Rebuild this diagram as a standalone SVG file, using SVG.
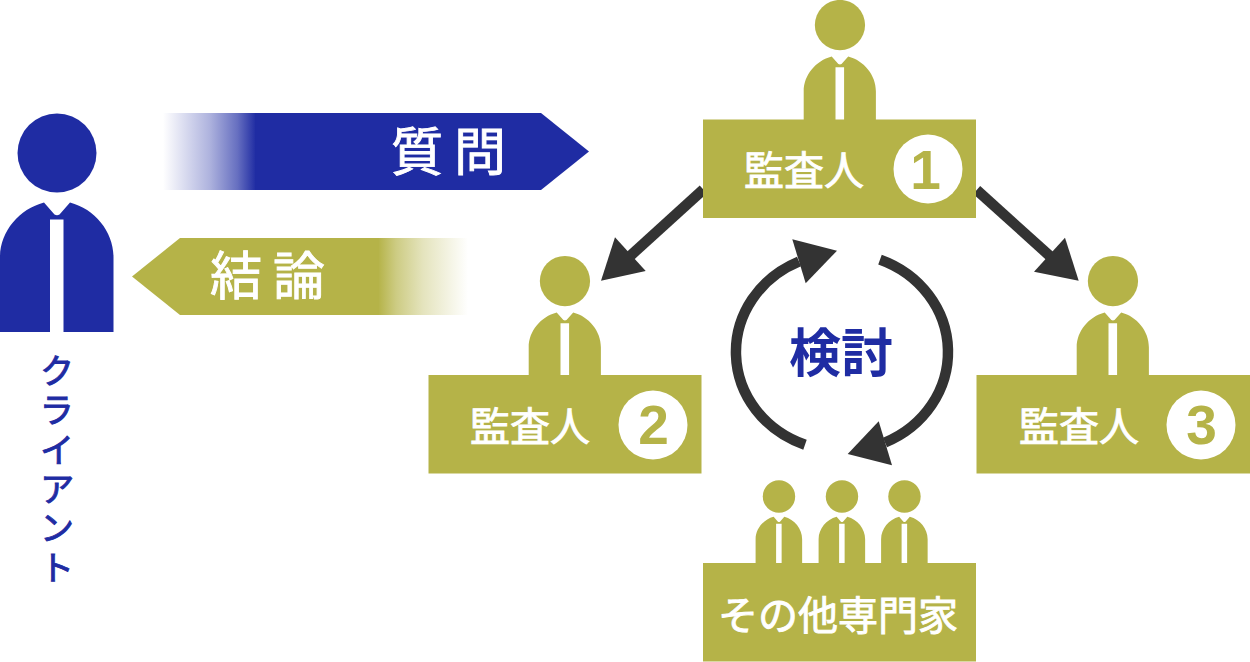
<svg xmlns="http://www.w3.org/2000/svg" width="1250" height="662" viewBox="0 0 1250 662">
<style>
.t{font-family:"Noto Sans CJK JP","Liberation Sans",sans-serif;font-weight:400}
.w{fill:#fff;stroke:#fff;stroke-width:.9}
.d{fill:#fff}
.g{fill:#b5b348}
.b{fill:#1f2ca3}
.kana{fill:#1f2ca3;stroke:#1f2ca3;stroke-width:.9;writing-mode:vertical-rl}
.c{fill:none;stroke:#333;stroke-width:10.500}
.a{fill:#333}
.num{font-family:"Liberation Sans",sans-serif;font-weight:700;font-size:55px;fill:#b5b348;text-anchor:middle}
</style>
<defs>
<g id="person">
<circle cx="57" cy="153" r="39.5"/>
<path fill-rule="evenodd" d="M44 202.500L54.500 214.500Q57 216 59.500 214.500L70 202.500C95 209 113.500 232 113.500 257V332H0V257C0 232 19 209 44 202.500ZM50 219.500V332H63.500V219.500Z"/>
</g>
<linearGradient id="gb" gradientUnits="userSpaceOnUse" x1="163" x2="256" y1="0" y2="0"><stop offset="0" stop-color="#1f2ca3" stop-opacity="0"/><stop offset=".5" stop-color="#1f2ca3" stop-opacity=".36"/><stop offset=".8" stop-color="#1f2ca3" stop-opacity=".68"/><stop offset="1" stop-color="#1f2ca3"/></linearGradient>
<linearGradient id="gg" gradientUnits="userSpaceOnUse" x1="468" x2="378" y1="0" y2="0"><stop offset="0" stop-color="#b5b348" stop-opacity="0"/><stop offset=".5" stop-color="#b5b348" stop-opacity=".36"/><stop offset=".8" stop-color="#b5b348" stop-opacity=".68"/><stop offset="1" stop-color="#b5b348"/></linearGradient>
</defs>
<g id="client">
<use href="#person" class="b"/>
<text class="t kana" font-size="35" x="57" y="353" letter-spacing="4.400">クライアント</text>
</g>
<g id="question">
<rect x="163" y="113" width="93" height="77" fill="url(#gb)"/>
<path class="b" d="M255 113H541L589 151.500L541 190H255Z"/>
<text class="t w" font-size="52" x="391" y="171">質</text>
<text class="t w" font-size="52" x="454" y="171">問</text>
</g>
<g id="conclusion">
<rect x="378" y="238" width="90" height="77" fill="url(#gg)"/>
<path class="g" d="M379 238H180L132 276.500L180 315H379Z"/>
<text class="t w" font-size="52" x="210" y="295">結</text>
<text class="t w" font-size="52" x="273" y="295">論</text>
</g>
<g id="connectors">
<path class="c" d="M703.300 189.500L628 258"/>
<path class="a" d="M601 280.700L615 237.300L645.700 271Z"/>
<path class="c" d="M976.700 190L1052 258"/>
<path class="a" d="M1078.700 280.700L1065 237.700L1034 271.700Z"/>
<path class="c" d="M805 444.800A106 99 0 0 1 799 261.500"/>
<path class="a" d="M837 250.700L792.300 239.300L805.700 283.300Z"/>
<path class="c" d="M880 259.600A106 99 0 0 1 885 442.500"/>
<path class="a" d="M847.700 454L892 465.300L878.700 421.300Z"/>
</g>
<text id="review" class="t b" font-size="52" style="font-weight:700" x="789" y="372">検討</text>
<g id="auditor1">
<use href="#person" class="g" transform="translate(803.700 -72.300) scale(.636)"/>
<rect class="g" x="703" y="119.500" width="273" height="98.500"/>
<text class="t w" font-size="40" x="744" y="185">監査人</text>
<circle class="d" cx="928" cy="169" r="34.500"/>
<text class="num" x="925.500" y="188.500">1</text>
</g>
<g id="auditor2">
<use href="#person" class="g" transform="translate(528.700 183.700) scale(.636)"/>
<rect class="g" x="428.500" y="375" width="273" height="98.500"/>
<text class="t w" font-size="40" x="470" y="441">監査人</text>
<circle class="d" cx="653" cy="425" r="34.500"/>
<text class="num" x="653.500" y="444">2</text>
</g>
<g id="auditor3">
<use href="#person" class="g" transform="translate(1076.700 183.700) scale(.636)"/>
<rect class="g" x="976.500" y="375" width="273.500" height="98.500"/>
<text class="t w" font-size="40" x="1019" y="441">監査人</text>
<circle class="d" cx="1201" cy="425" r="34.500"/>
<text class="num" x="1201.500" y="444">3</text>
</g>
<g id="experts">
<use href="#person" class="g" transform="translate(755.600 433.800) scale(.41)"/>
<use href="#person" class="g" transform="translate(818.600 433.800) scale(.41)"/>
<use href="#person" class="g" transform="translate(881.100 433.800) scale(.41)"/>
<rect class="g" x="703" y="563" width="273" height="98.500"/>
<text class="t w" font-size="40" x="718" y="630">その他専門家</text>
</g>
</svg>
